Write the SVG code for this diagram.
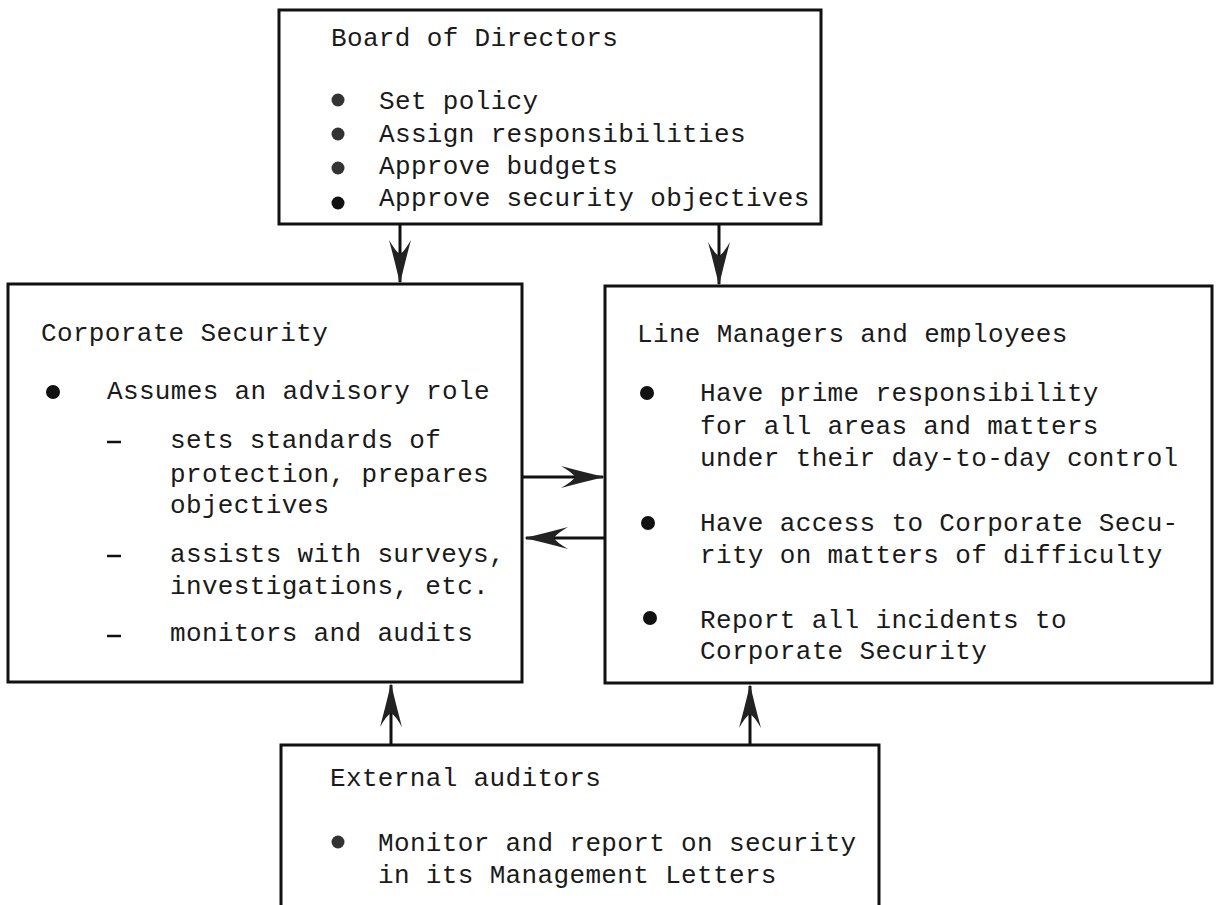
<svg xmlns="http://www.w3.org/2000/svg" xmlns:xlink="http://www.w3.org/1999/xlink" width="1217" height="905" viewBox="0 0 1217 905">
<style>
.box{fill:none;stroke:#111;stroke-width:3}
.t{font-family:"Liberation Mono","DejaVu Sans Mono",monospace;font-size:26px;letter-spacing:0.35px;fill:#1a1a1a}
.line{stroke:#111;stroke-width:3;fill:none}
.dash{stroke:#111;stroke-width:2.5;fill:none}
.ah{fill:#222}
.bk{fill:#111}
.gy{fill:#333}
</style>
<defs>
<path id="ah" d="M0,0 Q-18,-4 -44,-11 Q-32,-4 -30,0 Q-32,4 -44,11 Q-18,4 0,0 Z"/>
</defs>
<rect width="1217" height="905" fill="#fff"/>

<g id="connectors">
<line class="line" x1="400" y1="224" x2="400" y2="282"/>
<use href="#ah" class="ah" transform="translate(400,284) rotate(90)"/>
<line class="line" x1="719" y1="224" x2="719" y2="284"/>
<use href="#ah" class="ah" transform="translate(719,286) rotate(90)"/>
<line class="line" x1="522" y1="477" x2="603" y2="477"/>
<use href="#ah" class="ah" transform="translate(605,477)"/>
<line class="line" x1="605" y1="538" x2="526" y2="538"/>
<use href="#ah" class="ah" transform="translate(524,538) rotate(180)"/>
<line class="line" x1="391" y1="745" x2="391" y2="685"/>
<use href="#ah" class="ah" transform="translate(391,683) rotate(-90)"/>
<line class="line" x1="750" y1="745" x2="750" y2="686"/>
<use href="#ah" class="ah" transform="translate(750,684) rotate(-90)"/>
</g>

<g id="board">
<rect class="box" x="279" y="10" width="542" height="214"/>
<text class="t" x="331" y="46">Board of Directors</text>
<circle class="gy" cx="338" cy="100" r="6.5"/>
<circle class="gy" cx="338" cy="134" r="6.5"/>
<circle class="gy" cx="338" cy="168" r="6.5"/>
<circle class="bk" cx="338" cy="203" r="6.5"/>
<text class="t" x="379" y="109">Set policy</text>
<text class="t" x="379" y="142">Assign responsibilities</text>
<text class="t" x="379" y="174">Approve budgets</text>
<text class="t" x="379" y="206">Approve security objectives</text>
</g>

<g id="corporate-security">
<rect class="box" x="8" y="284" width="514" height="398"/>
<text class="t" x="41" y="341">Corporate Security</text>
<circle class="bk" cx="53" cy="392" r="7"/>
<text class="t" x="107" y="399">Assumes an advisory role</text>
<line class="dash" x1="107" y1="442" x2="121" y2="442"/>
<text class="t" x="170" y="448">sets standards of</text>
<text class="t" x="170" y="482">protection, prepares</text>
<text class="t" x="170" y="513">objectives</text>
<line class="dash" x1="107" y1="556" x2="121" y2="556"/>
<text class="t" x="170" y="562">assists with surveys,</text>
<text class="t" x="170" y="594">investigations, etc.</text>
<line class="dash" x1="107" y1="636" x2="121" y2="636"/>
<text class="t" x="170" y="641">monitors and audits</text>
</g>

<g id="line-managers">
<rect class="box" x="605" y="286" width="607" height="397"/>
<text class="t" x="637" y="342">Line Managers and employees</text>
<circle class="bk" cx="647" cy="393" r="7"/>
<text class="t" x="700" y="401">Have prime responsibility</text>
<text class="t" x="700" y="434">for all areas and matters</text>
<text class="t" x="700" y="466">under their day-to-day control</text>
<circle class="bk" cx="648" cy="523" r="7"/>
<text class="t" x="700" y="531">Have access to Corporate Secu-</text>
<text class="t" x="700" y="563">rity on matters of difficulty</text>
<circle class="bk" cx="650" cy="618" r="7"/>
<text class="t" x="700" y="628">Report all incidents to</text>
<text class="t" x="700" y="659">Corporate Security</text>
</g>

<g id="external-auditors">
<rect class="box" x="281" y="745" width="598" height="180"/>
<text class="t" x="330" y="786">External auditors</text>
<circle class="gy" cx="338" cy="842" r="6.5"/>
<text class="t" x="378" y="851">Monitor and report on security</text>
<text class="t" x="378" y="883">in its Management Letters</text>
</g>
</svg>
